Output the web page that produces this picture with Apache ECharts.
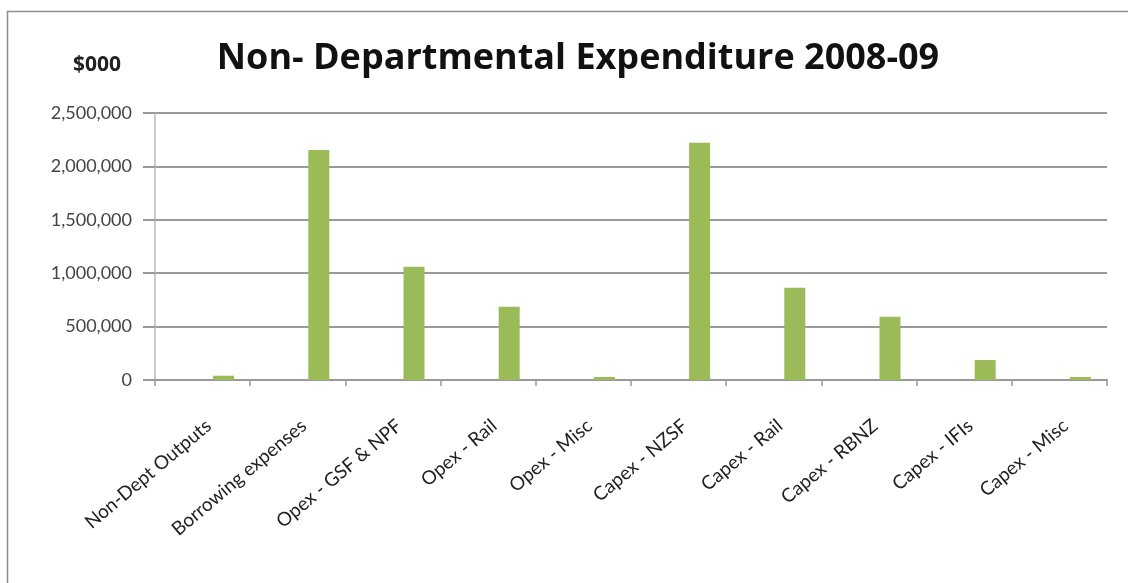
<!DOCTYPE html>
<html>
<head>
<meta charset="utf-8">
<script src="https://cdn.jsdelivr.net/npm/echarts@6/dist/echarts.min.js"></script>
<style>
  html, body { margin: 0; padding: 0; background: #fff; }
  #chart { width: 1128px; height: 583px; }
</style>
</head>
<body>
<div id="chart"></div>
<script>
// categories along the x axis
var categories = [
    'Non-Dept Outputs',
    'Borrowing expenses',
    'Opex - GSF & NPF',
    'Opex - Rail',
    'Opex - Misc',
    'Capex - NZSF',
    'Capex - Rail',
    'Capex - RBNZ',
    'Capex - IFIs',
    'Capex - Misc'
];

// $000
var expenditure = [40000, 2153000, 1061000, 686000, 28000, 2222000, 864000, 593000, 187000, 28000];

// the original sheet had two empty series before the real one
var emptySeries = [null, null, null, null, null, null, null, null, null, null];

var yTicks = [0, 500000, 1000000, 1500000, 2000000, 2500000];

var chart = echarts.init(document.getElementById('chart'));

var labelFont = 'Lato, "Open Sans", sans-serif';
var titleFont = '"Open Sans", Lato, sans-serif';

chart.setOption({
    backgroundColor: '#fff',
    animation: false,
    title: [{
        text: 'Non- Departmental Expenditure 2008-09',
        left: 573,
        top: 36,
        textAlign: 'center',
        textStyle: {
            fontFamily: titleFont,
            fontWeight: 'bold',
            fontSize: 36,
            color: '#111'
        }
    }, {
        text: '$000',
        left: 68,
        top: 50,
        textStyle: {
            fontFamily: titleFont,
            fontWeight: 'bold',
            fontSize: 21,
            color: '#222'
        }
    }],
    graphic: [{
        type: 'rect',
        shape: { x: 7.5, y: 11.5, width: 1200, height: 700 },
        style: { fill: 'none', stroke: '#8c8c8c', lineWidth: 1.5 },
        silent: true
    }],
    grid: {
        left: 155,
        right: 21,
        top: 113,
        bottom: 203
    },
    xAxis: {
        type: 'category',
        data: categories,
        axisLine: { lineStyle: { color: '#999', width: 2 } },
        axisTick: { show: true, length: 6, lineStyle: { color: '#999', width: 1.5 } },
        axisLabel: {
            interval: 0,
            rotate: 40,
            margin: 36,
            verticalAlign: 'top',
            fontFamily: labelFont,
            fontSize: 19,
            color: '#222'
        }
    },
    yAxis: {
        type: 'value',
        min: yTicks[0],
        max: yTicks[yTicks.length - 1],
        interval: 500000,
        axisLine: { show: true, lineStyle: { color: '#bbb', width: 1.5 } },
        axisTick: { show: true, length: 12, lineStyle: { color: '#999', width: 2 } },
        splitLine: { lineStyle: { color: '#999', width: 2 } },
        axisLabel: {
            margin: 23,
            fontFamily: labelFont,
            fontSize: 18,
            color: '#444',
            formatter: function (v) {
                return v.toString().replace(/\B(?=(\d{3})+(?!\d))/g, ',');
            }
        }
    },
    series: [{
        type: 'bar',
        name: 'a',
        data: emptySeries,
        barWidth: 21,
        barGap: '0%'
    }, {
        type: 'bar',
        name: 'b',
        data: emptySeries,
        barWidth: 21,
        barGap: '0%'
    }, {
        type: 'bar',
        name: 'Expenditure',
        data: expenditure,
        barWidth: 21,
        barGap: '0%',
        itemStyle: { color: '#9bbb59' }
    }]
});
</script>
</body>
</html>
